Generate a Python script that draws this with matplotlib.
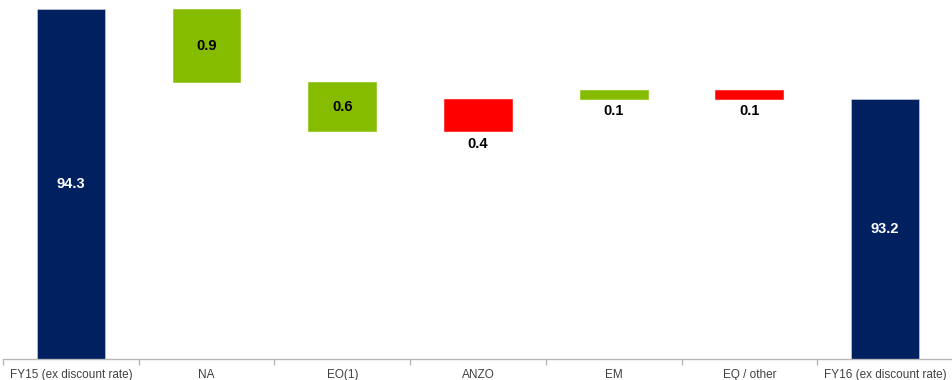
import matplotlib
matplotlib.use("Agg")
import matplotlib.pyplot as plt

# Waterfall: combined ratio bridge FY15 -> FY16 (ex discount rate)
categories = ["FY15 (ex discount rate)", "NA", "EO(1)", "ANZO", "EM", "EQ / other",
              "FY16 (ex discount rate)"]
bar_start = [90.0, 94.3, 93.4, 92.8, 93.2, 93.3, 90.0]
bar_end = [94.3, 93.4, 92.8, 93.2, 93.3, 93.2, 93.2]
value_labels = ["94.3", "0.9", "0.6", "0.4", "0.1", "0.1", "93.2"]
bar_kind = ["total", "good", "good", "bad", "good", "bad", "total"]

colors = {"total": "#002060", "good": "#86BC00", "bad": "#FF0000"}
text_colors = {"total": "white", "good": "black", "bad": "black"}

plt.rcParams["font.family"] = ["Liberation Sans", "DejaVu Sans"]

fig = plt.figure(figsize=(9.52, 3.80), dpi=100)
ax = fig.add_axes([3 / 952, 21 / 380, 950 / 952, 359 / 380])

x = list(range(len(categories)))
for i in x:
    lo, hi = sorted((bar_start[i], bar_end[i]))
    kind = bar_kind[i]
    ax.bar(i, hi - lo, bottom=lo, width=0.5, color=colors[kind],
           edgecolor="#d0d8e0" if kind == "total" else colors[kind], linewidth=0.4)
    if kind == "total" or (hi - lo) >= 0.5:
        ax.text(i, (lo + hi) / 2, value_labels[i], ha="center", va="center",
                fontsize=10.5, fontweight="bold", color=text_colors[kind])
    else:
        ax.annotate(value_labels[i], (i, lo), xytext=(0, -4), textcoords="offset points",
                    ha="center", va="top", fontsize=10.5, fontweight="bold",
                    color=text_colors[kind])

ax.set_xlim(-0.5, len(categories) - 0.5)
ax.set_ylim(90.0, 90.0 + 359 / 81.4)

for side in ("top", "right", "left"):
    ax.spines[side].set_visible(False)
ax.spines["bottom"].set_color("#b8b8b8")
ax.spines["bottom"].set_linewidth(1.0)
ax.set_yticks([])

ax.set_xticks([i - 0.5 for i in x], minor=False)
ax.set_xticklabels([])
ax.tick_params(axis="x", which="major", length=4, color="#b8b8b8", width=1.0)
ax.set_xticks(x, minor=True)
ax.set_xticklabels(categories, minor=True)
ax.tick_params(axis="x", which="minor", length=0, pad=7, labelsize=8.5, labelcolor="#404040")

fig.savefig("out.png", dpi=100, facecolor="white")
